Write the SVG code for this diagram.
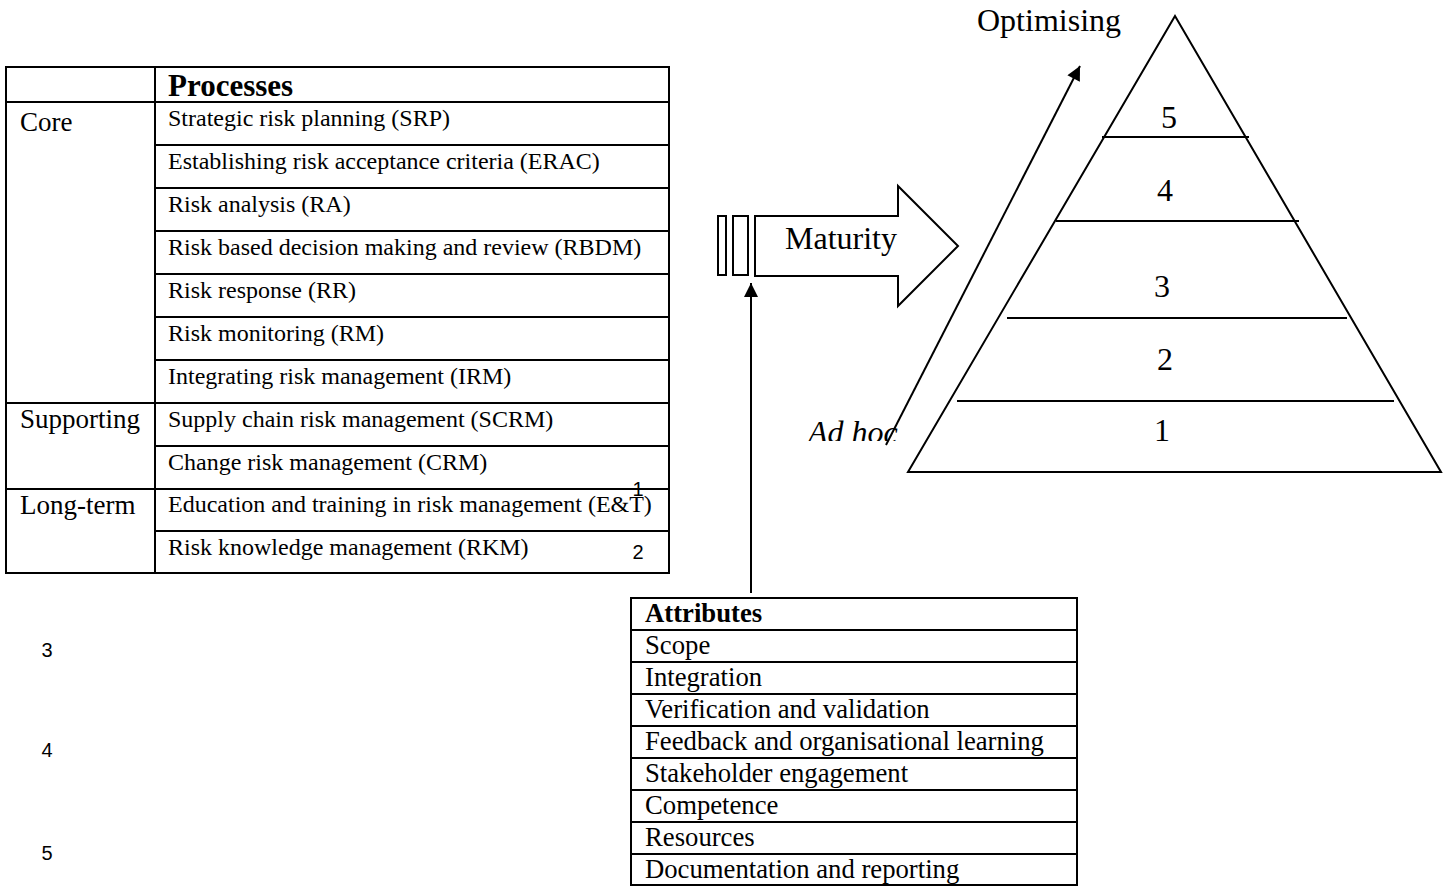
<svg xmlns="http://www.w3.org/2000/svg" width="1448" height="887" viewBox="0 0 1448 887">
<style>
.ln{stroke:#000;stroke-width:2;fill:none}
.sh{stroke:#000;stroke-width:2;fill:#fff}
.t{font-family:"Liberation Serif","Times New Roman",serif;fill:#000}
.p{font-size:24px}
.c{font-size:27px}
.a{font-size:26.7px}
.big{font-size:32px}
.b{font-weight:bold}
.n{font-family:"Liberation Sans",Arial,sans-serif;font-size:20px;fill:#000;text-anchor:middle}
.m{text-anchor:middle}
</style>
<defs>
<marker id="ah" viewBox="0 0 10 10" refX="10" refY="5" markerWidth="8" markerHeight="8" markerUnits="userSpaceOnUse" orient="auto">
<path d="M0,0 L10,5 L0,10 z" fill="#000"/>
</marker>
<marker id="ah2" viewBox="0 0 10 10" refX="10" refY="5" markerWidth="16" markerHeight="14" markerUnits="userSpaceOnUse" orient="auto">
<path d="M0,0 L10,5 L0,10 z" fill="#000"/>
</marker>
<clipPath id="adclip"><rect x="790" y="400" width="120" height="41"/></clipPath>
</defs>

<g id="processes-table">
<rect class="ln" x="6" y="67" width="663" height="506"/>
<line class="ln" x1="155" y1="67" x2="155" y2="573"/>
<line class="ln" x1="6" y1="102" x2="669" y2="102"/>
<line class="ln" x1="155" y1="145" x2="669" y2="145"/>
<line class="ln" x1="155" y1="188" x2="669" y2="188"/>
<line class="ln" x1="155" y1="231" x2="669" y2="231"/>
<line class="ln" x1="155" y1="274" x2="669" y2="274"/>
<line class="ln" x1="155" y1="317" x2="669" y2="317"/>
<line class="ln" x1="155" y1="360" x2="669" y2="360"/>
<line class="ln" x1="6" y1="403" x2="669" y2="403"/>
<line class="ln" x1="155" y1="446" x2="669" y2="446"/>
<line class="ln" x1="6" y1="489" x2="669" y2="489"/>
<line class="ln" x1="155" y1="531" x2="669" y2="531"/>
<text class="t b" x="168" y="96" font-size="31">Processes</text>
<text class="t c" x="20" y="131">Core</text>
<text class="t c" x="20" y="428">Supporting</text>
<text class="t c" x="20" y="514">Long-term</text>
<text class="t p" x="168" y="126">Strategic risk planning (SRP)</text>
<text class="t p" x="168" y="169">Establishing risk acceptance criteria (ERAC)</text>
<text class="t p" x="168" y="212">Risk analysis (RA)</text>
<text class="t p" x="168" y="255">Risk based decision making and review (RBDM)</text>
<text class="t p" x="168" y="298">Risk response (RR)</text>
<text class="t p" x="168" y="341">Risk monitoring (RM)</text>
<text class="t p" x="168" y="384">Integrating risk management (IRM)</text>
<text class="t p" x="168" y="427">Supply chain risk management (SCRM)</text>
<text class="t p" x="168" y="470">Change risk management (CRM)</text>
<text class="t p" x="168" y="512">Education and training in risk management (E&amp;T)</text>
<text class="t p" x="168" y="555">Risk knowledge management (RKM)</text>
</g>

<g id="page-numbers">
<text class="n" x="638" y="496">1</text>
<text class="n" x="638" y="559">2</text>
<text class="n" x="47" y="657">3</text>
<text class="n" x="47" y="757">4</text>
<text class="n" x="47" y="860">5</text>
</g>

<g id="maturity-arrow">
<rect class="sh" x="718" y="216" width="8" height="59"/>
<rect class="sh" x="733" y="216" width="15" height="59"/>
<path class="sh" d="M755,216 L898,216 L898,186 L958,246 L898,306 L898,276 L755,276 Z"/>
<text class="t big" x="785" y="249">Maturity</text>
</g>

<g id="pyramid">
<path class="ln" d="M1175,16 L1441,472 L908,472 Z"/>
<line class="ln" x1="1102" y1="137" x2="1249" y2="137"/>
<line class="ln" x1="1056" y1="221" x2="1299" y2="221"/>
<line class="ln" x1="1007" y1="318" x2="1347" y2="318"/>
<line class="ln" x1="957" y1="401" x2="1394" y2="401"/>
<text class="t big m" x="1169" y="128">5</text>
<text class="t big m" x="1165" y="201">4</text>
<text class="t big m" x="1162" y="297">3</text>
<text class="t big m" x="1165" y="370">2</text>
<text class="t big m" x="1162" y="441">1</text>
<text class="t big" x="977" y="31">Optimising</text>
<text class="t big" x="808" y="443" font-style="italic" clip-path="url(#adclip)">Ad hoc</text>
</g>

<g id="attributes-table">
<rect class="ln" x="631" y="598" width="446" height="287"/>
<line class="ln" x1="631" y1="630" x2="1077" y2="630"/>
<line class="ln" x1="631" y1="662" x2="1077" y2="662"/>
<line class="ln" x1="631" y1="694" x2="1077" y2="694"/>
<line class="ln" x1="631" y1="726" x2="1077" y2="726"/>
<line class="ln" x1="631" y1="758" x2="1077" y2="758"/>
<line class="ln" x1="631" y1="790" x2="1077" y2="790"/>
<line class="ln" x1="631" y1="822" x2="1077" y2="822"/>
<line class="ln" x1="631" y1="854" x2="1077" y2="854"/>
<text class="t a b" x="645" y="622">Attributes</text>
<text class="t a" x="645" y="654">Scope</text>
<text class="t a" x="645" y="686">Integration</text>
<text class="t a" x="645" y="718">Verification and validation</text>
<text class="t a" x="645" y="750">Feedback and organisational learning</text>
<text class="t a" x="645" y="782">Stakeholder engagement</text>
<text class="t a" x="645" y="814">Competence</text>
<text class="t a" x="645" y="846">Resources</text>
<text class="t a" x="645" y="878">Documentation and reporting</text>
</g>

<g id="connectors">
<line class="ln" x1="751" y1="593" x2="751" y2="283" marker-end="url(#ah2)"/>
<line class="ln" x1="886" y1="445" x2="1080" y2="66" marker-end="url(#ah2)"/>
</g>
</svg>
